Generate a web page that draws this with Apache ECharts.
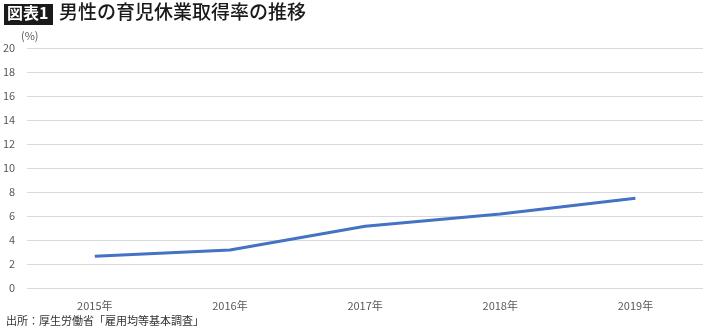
<!DOCTYPE html>
<html><head><meta charset="utf-8">
<script src="https://cdn.jsdelivr.net/npm/echarts@6/dist/echarts.min.js"></script>
<style>html,body{margin:0;padding:0;background:#fff}#c{width:710px;height:329px}</style>
</head><body><div id="c"></div>
<script>
const categories = ['2015年','2016年','2017年','2018年','2019年'];
const values = [2.65, 3.16, 5.14, 6.16, 7.48];
const yTicks = [0,2,4,6,8,10,12,14,16,18,20];
const titleTag = '図表1';
const titleText = '男性の育児休業取得率の推移';
const sourceText = '出所：厚生労働省「雇用均等基本調査」';
const unitText = '(%)';

const font = '"Noto Sans CJK JP", "Noto Sans", sans-serif';
const chart = echarts.init(document.getElementById('c'));
chart.setOption({
  animation: false,
  backgroundColor: '#fff',
  grid: {left: 25, right: 7, top: 48, bottom: 41, containLabel: false},
  xAxis: {
    type: 'category', data: categories, boundaryGap: true,
    axisLine: {show: false}, axisTick: {show: false},
    axisLabel: {color: '#595959', fontSize: 11, fontFamily: font, margin: 12}
  },
  yAxis: {
    type: 'value', min: yTicks[0], max: yTicks[yTicks.length-1], interval: 2,
    axisLine: {show: false}, axisTick: {show: false},
    axisLabel: {color: '#595959', fontSize: 11, fontFamily: font, margin: 12},
    splitLine: {lineStyle: {color: '#d9d9d9', width: 1}}
  },
  series: [{
    type: 'line', data: values, symbol: 'none',
    lineStyle: {color: '#4472c4', width: 3}
  }],
  graphic: [
    {type: 'rect', left: 4, top: 4, shape: {width: 49, height: 21}, style: {fill: '#1a1a1a'}},
    {type: 'text', left: 7, top: 5, style: {text: titleTag, fill: '#fff', font: 'bold 16px ' + font}},
    {type: 'text', left: 59, top: 2, style: {text: titleText, fill: '#1a1a1a', font: '500 19px ' + font}},
    {type: 'text', left: 21, top: 30, style: {text: unitText, fill: '#595959', font: '11px ' + font}},
    {type: 'text', left: 6, top: 315, style: {text: sourceText, fill: '#333', font: '11px ' + font}}
  ]
});
</script></body></html>
